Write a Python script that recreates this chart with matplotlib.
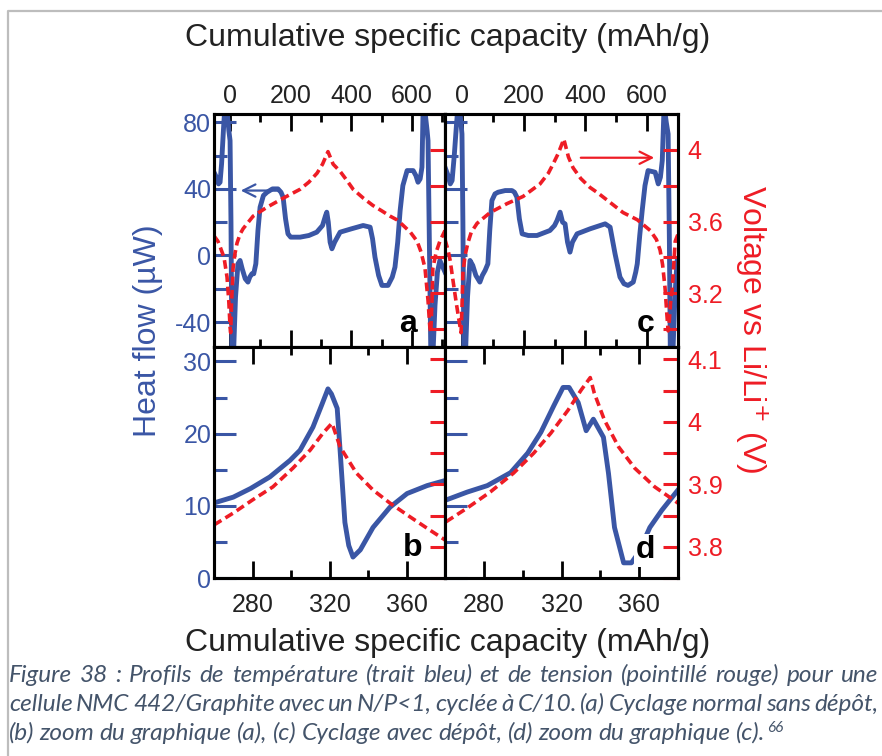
import matplotlib
matplotlib.use("Agg")
import matplotlib.pyplot as plt
from matplotlib.lines import Line2D
from matplotlib.ticker import FixedLocator, FuncFormatter

plt.rcParams['font.family'] = ['Liberation Sans', 'DejaVu Sans']
plt.rcParams['axes.unicode_minus'] = False

BLUE = '#3A56A5'
RED = '#EE1C25'
CAP = '#44546A'

# ---------------------------------------------------------------------
# Data
# ---------------------------------------------------------------------
# (a) normal cycling, full scale
a_blue_x = [-53, -45, -38, -33, -28, -22, -17, -10, -4, 0, 3, 6, 12, 18, 26, 33,
            40, 50, 59, 65, 72, 78, 85, 92, 99, 110, 122, 140, 158, 168, 175, 183,
            191, 200, 231, 260, 286, 305, 315, 319, 324, 330, 336, 345, 363, 400,
            439, 462, 470, 478, 490, 501, 521, 535, 544, 553, 561, 570, 584, 604,
            613, 620, 627, 633, 637, 642, 650, 653, 658, 662, 670, 676, 684, 692, 709]
a_blue_y = [50, 47, 43, 44, 55, 75, 90, 88, 75, 69, 20, -56, -56, -25, -5, -3,
            -8, -14, -16, -13, -11, -11, -5, 15, 29, 36, 38, 40, 40, 38, 35, 22,
            13, 11, 11, 12, 14, 18, 24, 26, 20, 8, 4, 8, 14, 16,
            18, 17, 10, -1, -12, -18, -18, -13, -7, 8, 27, 42, 51, 51,
            48, 44, 46, 53, 90, 88, 75, 69, 0, -56, -56, -30, -10, -3, -10]
a_red_x = [-53, -40, -33, -20, -10, -4, 0, 2, 5, 10, 16, 23, 33, 43, 76, 122, 175,
           231, 260, 287, 305, 323, 340, 363, 385, 406, 440, 471, 500, 528, 550,
           570, 595, 617, 630, 643, 653, 659, 662, 666, 669, 680, 692, 709]
a_red_v = [3.52, 3.49, 3.46, 3.40, 3.29, 3.15, 3.01, 2.98, 3.15, 3.34, 3.42, 3.48,
           3.53, 3.56, 3.63, 3.68, 3.73, 3.78, 3.82, 3.87, 3.92, 3.99, 3.92, 3.88,
           3.83, 3.78, 3.73, 3.69, 3.66, 3.63, 3.61, 3.58, 3.54, 3.49, 3.43, 3.34,
           3.16, 3.01, 2.98, 3.15, 3.34, 3.43, 3.49, 3.55]

# (c) cycling with plating, full scale
c_blue_x = [-55, -45, -38, -32, -25, -18, -13, -6, 0, 3, 6, 12, 18, 26, 35, 45, 58,
            66, 75, 84, 90, 97, 107, 117, 140, 162, 170, 178, 186, 195, 215, 243,
            285, 300, 308, 318, 326, 334, 342, 350, 358, 373, 415, 464, 480, 488,
            496, 512, 525, 538, 555, 563, 568, 576, 584, 593, 603, 626, 636, 643,
            649, 655, 662, 668, 672, 675, 684, 690, 697, 700]
c_blue_y = [53, 48, 43, 45, 60, 78, 90, 85, 73, 20, -56, -56, -25, -3, -6, -12, -16,
            -12, -9, -5, 15, 33, 37, 38, 39, 39, 38, 35, 22, 13, 12, 12,
            15, 18, 21, 26, 20, 19, 8, 2, 8, 13, 16, 19, 17, 9,
            1, -13, -17, -18, -16, -10, -5, 12, 27, 42, 51, 50, 43, 47,
            57, 90, 80, 73, 10, -56, -56, -25, -3, -2]
c_red_x = [-55, -45, -38, -29, -18, -6, -3, 0, 3, 10, 19, 30, 49, 91, 146, 198, 253,
           280, 295, 312, 330, 345, 360, 385, 415, 440, 470, 522, 568, 610, 630,
           642, 650, 658, 664, 668, 672, 676, 681, 687, 691, 700]
c_red_v = [3.50, 3.44, 3.38, 3.27, 3.14, 3.01, 2.98, 3.12, 3.31, 3.41, 3.48, 3.54,
           3.59, 3.65, 3.70, 3.74, 3.81, 3.87, 3.92, 3.98, 4.06, 3.96, 3.90, 3.84,
           3.79, 3.76, 3.72, 3.65, 3.61, 3.55, 3.50, 3.44, 3.36, 3.23, 3.08, 2.99,
           3.05, 3.15, 3.22, 3.38, 3.49, 3.53]

# (b) zoom of (a)
b_blue_x = [260, 270, 279, 289, 299.5, 304.7, 311.4, 316, 319.2, 321, 324, 325.5,
            328, 330, 332.2, 336, 342.6, 351.4, 360.3, 370.7, 380]
b_blue_y = [10.4, 11.2, 12.4, 14.0, 16.3, 17.7, 20.9, 24.0, 26.2, 25.5, 23.5, 17.7,
            7.7, 4.5, 2.9, 3.9, 7.0, 9.8, 11.7, 12.8, 13.5]
b_red_x = [260, 270, 280, 290.6, 301, 310, 316.6, 321.3, 325.5, 334, 342.6, 351.4,
           361.8, 372, 380]
b_red_v = [3.835, 3.854, 3.875, 3.896, 3.926, 3.955, 3.982, 3.998, 3.96, 3.918,
           3.891, 3.870, 3.848, 3.827, 3.811]

# (d) zoom of (c)
d_blue_x = [260.5, 271.4, 281.8, 293.8, 302.6, 309.4, 316.1, 320.8, 323.9, 328.6,
            332.7, 336.4, 341.6, 344.2, 347.3, 352, 356, 359.7, 365.5, 371.7, 380]
d_blue_y = [10.8, 11.9, 12.8, 14.6, 17.3, 20.2, 23.9, 26.4, 26.4, 24.3,
            20.4, 22.0, 19.5, 14.5, 7.0, 2.1, 2.1, 3.5, 7.0, 9.4, 12.2]
d_red_x = [260.5, 271.4, 283.4, 295.3, 305.7, 314.5, 323.4, 330.1, 334.8, 336.9,
           342.1, 349.4, 357.7, 368, 380]
d_red_v = [3.84, 3.862, 3.888, 3.918, 3.95, 3.982, 4.019, 4.051, 4.071, 4.046,
           4.003, 3.96, 3.926, 3.896, 3.87]

top_xticks = [0, 200, 400, 600]
top_xminor = [100, 300, 500, 700]
bot_xticks = [280, 320, 360]
bot_xminor = [300, 340]
top_yticks = [-40, 0, 40, 80]
top_yminor = [-20, 20, 60]
bot_yticks = [0, 10, 20, 30]
bot_yminor = [5, 15, 25]
top_vticks = [3.2, 3.6, 4.0]
top_vminor = [3.0, 3.4, 3.8, 4.2]
bot_vticks = [3.8, 3.9, 4.0, 4.1]
bot_vminor = [3.75, 3.85, 3.95, 4.05]

caption = [
    "Figure 38 : Profils de température (trait bleu) et de tension (pointillé rouge) pour une",
    "cellule NMC 442/Graphite avec un N/P<1, cyclée à C/10. (a) Cyclage normal sans dépôt,",
    "(b) zoom du graphique (a), (c) Cyclage avec dépôt, (d) zoom du graphique (c).",
]

# ---------------------------------------------------------------------
W, H = 882, 756
fig = plt.figure(figsize=(W / 100, H / 100), dpi=100)


def box(x0, y0, x1, y1):
    return [x0 / W, 1 - y1 / H, (x1 - x0) / W, (y1 - y0) / H]


fmt = FuncFormatter(lambda v, p: '%g' % round(v, 2))
TS = 18


def panel(rect, xb, yb, xr, yr, xlim, ylim, vlim, top, left_lab, right_lab, letter):
    ax = fig.add_axes(rect)
    ax.plot(xb, yb, color=BLUE, lw=3.5, solid_joinstyle='round')
    ax.set_xlim(*xlim)
    ax.set_ylim(*ylim)
    tw = ax.twinx()
    tw.plot(xr, yr, color=RED, lw=2.6, ls=(0, (2.4, 1.3)))
    tw.set_ylim(*vlim)

    if top:
        ax.xaxis.set_major_locator(FixedLocator(top_xticks))
        ax.xaxis.set_minor_locator(FixedLocator(top_xminor))
        ax.yaxis.set_major_locator(FixedLocator(top_yticks))
        ax.yaxis.set_minor_locator(FixedLocator(top_yminor))
        tw.yaxis.set_major_locator(FixedLocator(top_vticks))
        tw.yaxis.set_minor_locator(FixedLocator(top_vminor))
    else:
        ax.xaxis.set_major_locator(FixedLocator(bot_xticks))
        ax.xaxis.set_minor_locator(FixedLocator(bot_xminor))
        ax.yaxis.set_major_locator(FixedLocator(bot_yticks))
        ax.yaxis.set_minor_locator(FixedLocator(bot_yminor))
        tw.yaxis.set_major_locator(FixedLocator(bot_vticks))
        tw.yaxis.set_minor_locator(FixedLocator(bot_vminor))
    tw.yaxis.set_major_formatter(fmt)

    ax.tick_params(axis='x', which='both', direction='in', top=True, bottom=True,
                   labeltop=top, labelbottom=not top, color='black', width=2,
                   labelsize=TS, pad=4 if top else 11, labelcolor='#222222')
    ax.tick_params(axis='x', which='major', length=12)
    ax.tick_params(axis='x', which='minor', length=6)
    ax.tick_params(axis='y', which='both', direction='in', colors=BLUE, width=2.2,
                   labelsize=TS, labelleft=left_lab, pad=2, right=False)
    ax.tick_params(axis='y', which='major', length=16)
    ax.tick_params(axis='y', which='minor', length=9)
    tw.tick_params(axis='y', which='both', direction='in', colors=RED, width=2.2,
                   length=11, labelsize=TS, labelright=right_lab, pad=7)
    for a in (ax, tw):
        for s in a.spines.values():
            s.set_linewidth(2.2)
            s.set_color('black')
    fx, fy = letter[1], letter[2]
    t = ax.text(fx, fy, letter[0], transform=ax.transAxes, fontsize=23,
                fontweight='bold', ha='center', va='center', zorder=5)
    if letter[0] == 'd':
        t.set_bbox(dict(facecolor='white', edgecolor='none', pad=1))
    return ax, tw


ax_a, tw_a = panel(box(214, 114, 445, 347), a_blue_x, a_blue_y, a_red_x, a_red_v,
                   (-53, 709), (-55, 85), (2.9, 4.2), True, True, False, ('a', 0.84, 0.10))
ax_c, tw_c = panel(box(445, 114, 678, 347), c_blue_x, c_blue_y, c_red_x, c_red_v,
                   (-55, 700), (-55, 85), (2.9, 4.2), True, False, True, ('c', 0.86, 0.10))
ax_b, tw_b = panel(box(214, 347, 445, 578), b_blue_x, b_blue_y, b_red_x, b_red_v,
                   (260, 380), (0, 32), (3.75, 4.12), False, True, False, ('b', 0.86, 0.13))
ax_d, tw_d = panel(box(445, 347, 678, 578), d_blue_x, d_blue_y, d_red_x, d_red_v,
                   (260, 380), (0, 32), (3.75, 4.12), False, False, True, ('d', 0.86, 0.12))

# arrows pointing to the relevant axis
ax_a.annotate('', xy=(26, 39), xytext=(175, 39),
              arrowprops=dict(arrowstyle='->', color=BLUE, lw=1.6, mutation_scale=22))
tw_c.annotate('', xy=(632, 3.956), xytext=(376, 3.956),
              arrowprops=dict(arrowstyle='->', color=RED, lw=1.6, mutation_scale=22))

# axis titles
fig.text(447.5 / W, 1 - 38 / H, 'Cumulative specific capacity (mAh/g)', fontsize=23,
         ha='center', va='center', color='#222222')
fig.text(447.5 / W, 1 - 643 / H, 'Cumulative specific capacity (mAh/g)', fontsize=23,
         ha='center', va='center', color='#222222')
fig.text(148 / W, 1 - 331 / H, 'Heat flow (µW)', fontsize=23, rotation=90,
         ha='center', va='center', color=BLUE)
fig.text(752 / W, 1 - 329 / H, 'Voltage vs Li/Li$^{+}$ (V)', fontsize=23, rotation=270,
         ha='center', va='center', color=RED)

# light frame of the document figure
fig.add_artist(Line2D([8 / W, 8 / W, 1], [0, 1 - 11 / H, 1 - 11 / H],
                      transform=fig.transFigure, color='#BDBDBD', lw=1.6))

# justified italic caption
renderer = fig.canvas.get_renderer()
X0, X1 = 9, 878
CS = 17.6


def put_line(text, y_px, justify):
    words = text.split(' ')
    ts = [fig.text(0, 1 - y_px / H, w, fontsize=CS, style='italic', family='Lato',
                   color=CAP, va='baseline', ha='left') for w in words]
    ws = [t.get_window_extent(renderer).width for t in ts]
    gap = (X1 - X0 - sum(ws)) / (len(ws) - 1) if justify else CS * 0.3
    x = X0
    for t, w in zip(ts, ws):
        t.set_x(x / W)
        x += w + gap
    return x - gap


put_line(caption[0], 682, True)
put_line(caption[1], 711, True)
xe = put_line(caption[2], 740, False)
fig.text(xe / W + 0.002, 1 - 732 / H, '66', fontsize=11, style='italic', family='Lato',
         color=CAP, va='baseline', ha='left')

fig.savefig('out.png', dpi=100)
